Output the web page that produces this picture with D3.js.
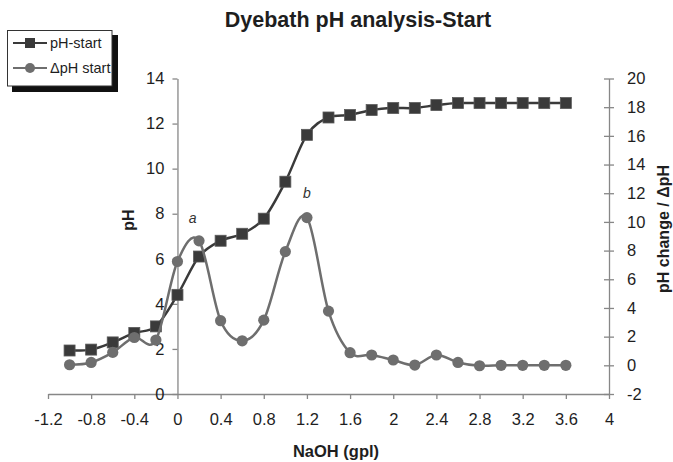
<!DOCTYPE html>
<html>
<head>
<meta charset="utf-8">
<script src="https://cdn.jsdelivr.net/npm/d3@7"></script>
<style>
  html, body { margin: 0; padding: 0; background: #fff; }
  svg { display: block; font-family: "Liberation Sans", Arial, sans-serif; }
</style>
</head>
<body>
<svg id="chart" width="673" height="462"></svg>
<script>
// NaOH dose (gpl) at each sampling step
const naoh = [-1.0, -0.8, -0.6, -0.4, -0.2, 0, 0.2, 0.4, 0.6, 0.8, 1.0, 1.2,
              1.4, 1.6, 1.8, 2.0, 2.2, 2.4, 2.6, 2.8, 3.0, 3.2, 3.4, 3.6];
// Dyebath pH at start (left axis)
const phStart = [1.93, 1.97, 2.29, 2.71, 3.0, 4.4, 6.1, 6.8, 7.11, 7.78, 9.42, 11.5,
                 12.27, 12.38, 12.6, 12.69, 12.69, 12.82, 12.91, 12.91, 12.91, 12.91, 12.91, 12.91];
// Change in pH between steps (right axis)
const deltaPh = [0.04, 0.2, 0.9, 1.94, 1.76, 7.24, 8.68, 3.11, 1.71, 3.15, 7.93, 10.3,
                 3.78, 0.88, 0.72, 0.37, 0.02, 0.72, 0.2, -0.03, 0, 0, 0, 0];

const xTicks = [-1.2, -0.8, -0.4, 0, 0.4, 0.8, 1.2, 1.6, 2, 2.4, 2.8, 3.2, 3.6, 4];
const phTicks = [0, 2, 4, 6, 8, 10, 12, 14];
const deltaTicks = [-2, 0, 2, 4, 6, 8, 10, 12, 14, 16, 18, 20];

const peakLabels = [
  { text: "a", x: 0.14, y: 9.9 },
  { text: "b", x: 1.2, y: 11.7 }
];

const svg = d3.select("#chart");
const axisColor = "#878787";
const textColor = "#1e1e1e";
const sqColor = "#3a3a3a";
const circColor = "#6e6e6e";

const x = d3.scaleLinear().domain([-1.2, 4]).range([48, 609]);
const yL = d3.scaleLinear().domain([0, 14]).range([394, 78.5]);
const yR = d3.scaleLinear().domain([-2, 20]).range([394, 78.5]);

const fmt = v => String(+v.toFixed(1));

// Title
svg.append("text")
  .attr("x", 358).attr("y", 26.5)
  .attr("text-anchor", "middle")
  .attr("font-size", 21.5).attr("font-weight", "bold")
  .attr("fill", textColor)
  .text("Dyebath pH analysis-Start");

// X axis (along the bottom of the plot)
const gx = svg.append("g")
  .attr("transform", `translate(0,${yL(0)})`)
  .call(d3.axisBottom(x).tickValues(xTicks).tickFormat(fmt)
    .tickSize(5).tickSizeOuter(0).tickPadding(14));

// Left pH axis, crossing at NaOH = 0
const gl = svg.append("g")
  .attr("transform", `translate(${x(0)},0)`)
  .call(d3.axisLeft(yL).tickValues(phTicks).tickFormat(fmt)
    .tickSize(5).tickSizeOuter(0).tickPadding(8));

// Right ΔpH axis with crossing ticks
const gr = svg.append("g")
  .attr("transform", `translate(${x(4)},0)`)
  .call(d3.axisRight(yR).tickValues(deltaTicks).tickFormat(fmt)
    .tickSize(5).tickSizeOuter(0).tickPadding(13));
gr.selectAll(".tick line").attr("x1", -5);

[gx, gl, gr].forEach(g => {
  g.select(".domain").attr("stroke", axisColor).attr("stroke-width", 1.3);
  g.selectAll(".tick line").attr("stroke", axisColor).attr("stroke-width", 1.3);
  g.selectAll(".tick text").attr("fill", textColor)
    .attr("font-size", 16.5).attr("font-family", "'Liberation Sans', Arial, sans-serif");
});

// Axis titles
svg.append("text")
  .attr("x", 336).attr("y", 457)
  .attr("text-anchor", "middle")
  .attr("font-size", 16.5).attr("font-weight", "bold")
  .attr("fill", textColor)
  .text("NaOH (gpl)");

svg.append("text")
  .attr("transform", "translate(134,220) rotate(-90)")
  .attr("text-anchor", "middle")
  .attr("font-size", 16).attr("font-weight", "bold")
  .attr("fill", textColor)
  .text("pH");

svg.append("text")
  .attr("transform", "translate(669,229) rotate(-90)")
  .attr("text-anchor", "middle")
  .attr("font-size", 16).attr("font-weight", "bold")
  .attr("fill", textColor)
  .text("pH change / ΔpH");

// Series
const curve = d3.curveCardinal.tension(0);
const phData = naoh.map((n, i) => ({ n, v: phStart[i] }));
const dData = naoh.map((n, i) => ({ n, v: deltaPh[i] }));

svg.append("path")
  .datum(phData)
  .attr("fill", "none")
  .attr("stroke", sqColor)
  .attr("stroke-width", 2.5)
  .attr("d", d3.line().x(d => x(d.n)).y(d => yL(d.v)).curve(curve));

const sq = 11;
svg.append("g").selectAll("rect")
  .data(phData).join("rect")
  .attr("x", d => x(d.n) - sq / 2)
  .attr("y", d => yL(d.v) - sq / 2)
  .attr("width", sq).attr("height", sq)
  .attr("fill", sqColor)
  .attr("stroke", "#5a5a5a").attr("stroke-width", 0.8);

svg.append("path")
  .datum(dData)
  .attr("fill", "none")
  .attr("stroke", circColor)
  .attr("stroke-width", 2.5)
  .attr("d", d3.line().x(d => x(d.n)).y(d => yR(d.v)).curve(curve));

svg.append("g").selectAll("circle")
  .data(dData).join("circle")
  .attr("cx", d => x(d.n))
  .attr("cy", d => yR(d.v))
  .attr("r", 5.6)
  .attr("fill", circColor);

// Peak markers
svg.append("g").selectAll("text")
  .data(peakLabels).join("text")
  .attr("x", d => x(d.x))
  .attr("y", d => yR(d.y))
  .attr("text-anchor", "middle")
  .attr("font-size", 14).attr("font-style", "italic")
  .attr("fill", "#333")
  .text(d => d.text);

// Legend with drop shadow
const legend = svg.append("g");
legend.append("rect")
  .attr("x", 12).attr("y", 35).attr("width", 106).attr("height", 57)
  .attr("fill", "#111");
legend.append("rect")
  .attr("x", 7.5).attr("y", 30.5).attr("width", 104.5).attr("height", 55.5)
  .attr("fill", "#fff").attr("stroke", "#333").attr("stroke-width", 1);

const items = [
  { label: "pH-start", color: sqColor, shape: "square", y: 43 },
  { label: "ΔpH start", color: circColor, shape: "circle", y: 68 }
];
items.forEach(it => {
  legend.append("line")
    .attr("x1", 13).attr("x2", 47).attr("y1", it.y).attr("y2", it.y)
    .attr("stroke", it.color).attr("stroke-width", 2.2);
  if (it.shape === "square") {
    legend.append("rect")
      .attr("x", 25).attr("y", it.y - 5).attr("width", 10).attr("height", 10)
      .attr("fill", it.color);
  } else {
    legend.append("circle")
      .attr("cx", 30).attr("cy", it.y).attr("r", 5)
      .attr("fill", it.color);
  }
  legend.append("text")
    .attr("x", 50).attr("y", it.y + 5)
    .attr("font-size", 14.5)
    .attr("fill", textColor)
    .text(it.label);
});
</script>
</body>
</html>
